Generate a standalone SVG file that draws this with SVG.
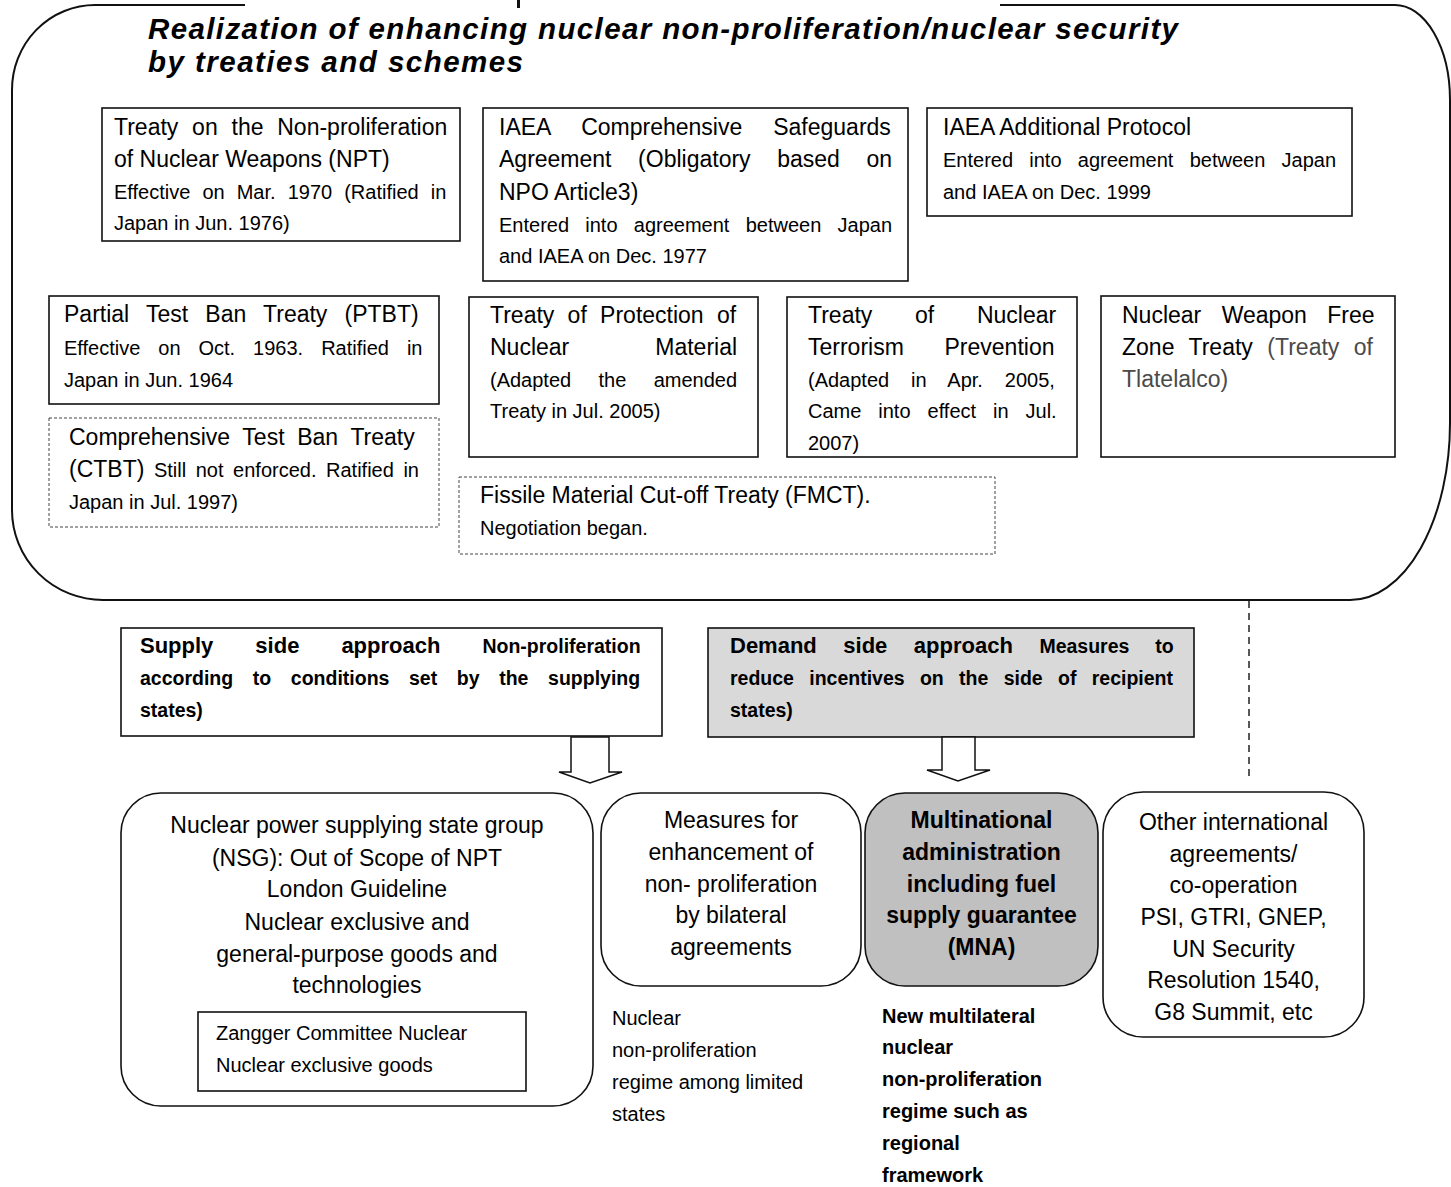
<svg xmlns="http://www.w3.org/2000/svg" width="1451" height="1187" viewBox="0 0 1451 1187">
<style>
text{font-family:"Liberation Sans",Arial,sans-serif;fill:#000}
.t23{font-size:23px}
.t20{font-size:20px}
.bb{font-weight:bold}
.c{text-anchor:middle}
.title{font-size:29.5px;font-weight:bold;font-style:italic}
.box{fill:#fff;stroke:#111;stroke-width:1.6}
.dot{fill:#fff;stroke:#444;stroke-width:1;stroke-dasharray:3 2}
.frame{fill:none;stroke:#111;stroke-width:2}
.arrow{fill:#fff;stroke:#111;stroke-width:1.5;stroke-linejoin:miter}
.gray{fill:#4a4a4a}
</style>
<rect width="1451" height="1187" fill="#fff"/>

<g id="frame">
<path class="frame" d="M245,5 H95 A83,85 0 0 0 12,90 V510 A91,90 0 0 0 103,600 H1350 A100,177 0 0 0 1450,423 V100 A55,95 0 0 0 1395,5 H1000"/>
<rect x="517" y="0" width="3" height="8" fill="#111"/>
<text x="148" y="39" class="title" textLength="1030" lengthAdjust="spacing">Realization of enhancing nuclear non-proliferation/nuclear security</text>
<text x="148" y="72" class="title" textLength="375" lengthAdjust="spacing">by treaties and schemes</text>
</g>

<g id="npt">
<rect class="box" x="102" y="108" width="358" height="133"/>
<text x="114" y="135" class="t23" word-spacing="7.4">Treaty on the Non-proliferation</text>
<text x="114" y="167" class="t23">of Nuclear Weapons (NPT)</text>
<text x="114" y="199" class="t20" word-spacing="6.5">Effective on Mar. 1970 (Ratified in</text>
<text x="114" y="230" class="t20">Japan in Jun. 1976)</text>
</g>

<g id="iaea-csa">
<rect class="box" x="483" y="108" width="425" height="173"/>
<text x="499" y="135" class="t23" word-spacing="24.6">IAEA Comprehensive Safeguards</text>
<text x="499" y="167" class="t23" word-spacing="20.2">Agreement (Obligatory based on</text>
<text x="499" y="200" class="t23">NPO Article3)</text>
<text x="499" y="232" class="t20" word-spacing="10.7">Entered into agreement between Japan</text>
<text x="499" y="263" class="t20">and IAEA on Dec. 1977</text>
</g>

<g id="iaea-ap">
<rect class="box" x="927" y="108" width="425" height="108"/>
<text x="943" y="135" class="t23">IAEA Additional Protocol</text>
<text x="943" y="167" class="t20" word-spacing="10.7">Entered into agreement between Japan</text>
<text x="943" y="199" class="t20">and IAEA on Dec. 1999</text>
</g>

<g id="ptbt">
<rect class="box" x="49" y="296" width="390" height="108"/>
<text x="64" y="322" class="t23" word-spacing="10.8">Partial Test Ban Treaty (PTBT)</text>
<text x="64" y="355" class="t20" word-spacing="12.4">Effective on Oct. 1963. Ratified in</text>
<text x="64" y="387" class="t20">Japan in Jun. 1964</text>
</g>

<g id="ctbt">
<rect class="dot" x="49" y="418" width="390" height="109"/>
<text x="69" y="445" class="t23" word-spacing="6.3">Comprehensive Test Ban Treaty</text>
<text x="69" y="477" class="t20" word-spacing="4"><tspan class="t23">(CTBT)</tspan> Still not enforced. Ratified in</text>
<text x="69" y="509" class="t20">Japan in Jul. 1997)</text>
</g>

<g id="protection">
<rect class="box" x="469" y="297" width="289" height="160"/>
<text x="490" y="323" class="t23" word-spacing="6.9">Treaty of Protection of</text>
<text x="490" y="355" class="t23" word-spacing="79.6">Nuclear Material</text>
<text x="490" y="387" class="t20" word-spacing="21.8">(Adapted the amended</text>
<text x="490" y="418" class="t20">Treaty in Jul. 2005)</text>
</g>

<g id="terrorism">
<rect class="box" x="787" y="297" width="290" height="160"/>
<text x="808" y="323" class="t23" word-spacing="36.3">Treaty of Nuclear</text>
<text x="808" y="355" class="t23" word-spacing="34.3">Terrorism Prevention</text>
<text x="808" y="387" class="t20" word-spacing="16.3">(Adapted in Apr. 2005,</text>
<text x="808" y="418" class="t20" word-spacing="11.4">Came into effect in Jul.</text>
<text x="808" y="450" class="t20">2007)</text>
</g>

<g id="nwfz">
<rect class="box" x="1101" y="296" width="294" height="161"/>
<text x="1122" y="323" class="t23" word-spacing="14">Nuclear Weapon Free</text>
<text x="1122" y="355" class="t23" word-spacing="8.1">Zone Treaty <tspan class="gray">(Treaty of</tspan></text>
<text x="1122" y="387" class="t23 gray">Tlatelalco)</text>
</g>

<g id="fmct">
<rect class="dot" x="459" y="477" width="536" height="77"/>
<text x="480" y="503" class="t23">Fissile Material Cut-off Treaty (FMCT).</text>
<text x="480" y="535" class="t20">Negotiation began.</text>
</g>

<g id="supply">
<rect class="box" x="121" y="628" width="541" height="108"/>
<text x="140" y="653" class="bb" style="font-size:22px" word-spacing="35.9">Supply side approach <tspan style="font-size:19.5px">Non-proliferation</tspan></text>
<text x="140" y="685" class="bb" style="font-size:19.5px" word-spacing="14.2">according to conditions set by the supplying</text>
<text x="140" y="717" class="bb" style="font-size:19.5px">states)</text>
</g>

<g id="demand">
<rect class="box" x="708" y="628" width="486" height="109" style="fill:#d9d9d9"/>
<text x="730" y="653" class="bb" style="font-size:22px" word-spacing="20.4">Demand side approach <tspan style="font-size:19.5px">Measures to</tspan></text>
<text x="730" y="685" class="bb" style="font-size:19.5px" word-spacing="9.9">reduce incentives on the side of recipient</text>
<text x="730" y="717" class="bb" style="font-size:19.5px">states)</text>
</g>

<g id="connectors">
<polygon class="arrow" points="571,737 609,737 609,772 622,772 590,783 559,772 571,772"/>
<polygon class="arrow" points="942,737 975,737 975,770 990,770 958,781 927,770 942,770"/>
<line x1="1249" y1="601" x2="1249" y2="778" stroke="#222" stroke-width="1.5" stroke-dasharray="7 5"/>
</g>

<g id="nsg">
<rect class="box" x="121" y="793" width="472" height="313" rx="40" ry="40"/>
<text x="357" y="833" class="t23 c">Nuclear power supplying state group</text>
<text x="357" y="866" class="t23 c">(NSG): Out of Scope of NPT</text>
<text x="357" y="897" class="t23 c">London Guideline</text>
<text x="357" y="930" class="t23 c">Nuclear exclusive and</text>
<text x="357" y="962" class="t23 c">general-purpose goods and</text>
<text x="357" y="993" class="t23 c">technologies</text>
</g>

<g id="zangger">
<rect class="box" x="198" y="1012" width="328" height="79"/>
<text x="216" y="1040" class="t20">Zangger Committee Nuclear</text>
<text x="216" y="1072" class="t20">Nuclear exclusive goods</text>
</g>

<g id="bilateral">
<rect class="box" x="601" y="793" width="260" height="193" rx="40" ry="40"/>
<text x="731" y="828" class="t23 c">Measures for</text>
<text x="731" y="860" class="t23 c">enhancement of</text>
<text x="731" y="892" class="t23 c">non- proliferation</text>
<text x="731" y="923" class="t23 c">by bilateral</text>
<text x="731" y="955" class="t23 c">agreements</text>
</g>

<g id="mna">
<rect class="box" x="865" y="793" width="233" height="193" rx="40" ry="40" style="fill:#c0c0c0"/>
<text x="981.5" y="828" class="t23 c bb">Multinational</text>
<text x="981.5" y="860" class="t23 c bb">administration</text>
<text x="981.5" y="892" class="t23 c bb">including fuel</text>
<text x="981.5" y="923" class="t23 c bb">supply guarantee</text>
<text x="981.5" y="955" class="t23 c bb">(MNA)</text>
</g>

<g id="other">
<rect class="box" x="1103" y="792" width="261" height="245" rx="40" ry="40"/>
<text x="1233.5" y="830" class="t23 c">Other international</text>
<text x="1233.5" y="862" class="t23 c">agreements/</text>
<text x="1233.5" y="893" class="t23 c">co-operation</text>
<text x="1233.5" y="925" class="t23 c">PSI, GTRI, GNEP,</text>
<text x="1233.5" y="957" class="t23 c">UN Security</text>
<text x="1233.5" y="988" class="t23 c">Resolution 1540,</text>
<text x="1233.5" y="1020" class="t23 c">G8 Summit, etc</text>
</g>

<g id="bilateral-note">
<text x="612" y="1025" class="t20">Nuclear</text>
<text x="612" y="1057" class="t20">non-proliferation</text>
<text x="612" y="1089" class="t20">regime among limited</text>
<text x="612" y="1121" class="t20">states</text>
</g>

<g id="mna-note">
<text x="882" y="1023" class="t20 bb">New multilateral</text>
<text x="882" y="1054" class="t20 bb">nuclear</text>
<text x="882" y="1086" class="t20 bb">non-proliferation</text>
<text x="882" y="1118" class="t20 bb">regime such as</text>
<text x="882" y="1150" class="t20 bb">regional</text>
<text x="882" y="1182" class="t20 bb">framework</text>
</g>
</svg>
